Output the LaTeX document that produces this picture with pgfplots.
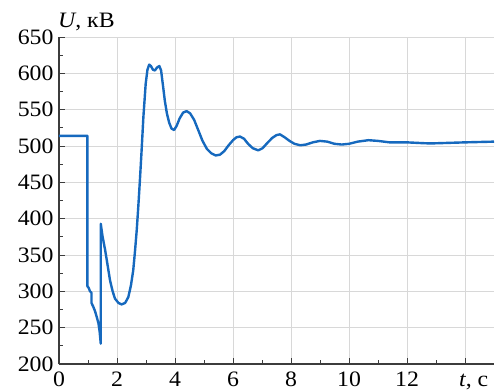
\documentclass[border=0pt]{standalone}
\usepackage{fontspec}
\setmainfont{Liberation Serif}[FakeStretch=1.08]
\usepackage{pgfplots}
\pgfplotsset{compat=1.18}
\definecolor{lineblue}{RGB}{22,105,190}
\definecolor{gridgray}{RGB}{216,216,216}
\definecolor{axgray}{RGB}{60,60,60}
\begin{document}
\begin{tikzpicture}
\begin{axis}[
  scale only axis,
  width=435pt, height=327pt,
  xmin=0, xmax=15, ymin=200, ymax=650,
  axis lines=left,
  axis line style={-, axgray, line width=1.1pt},
  xtick={0,2,...,14},
  xticklabels={0,2,4,6,8,10,12,{}},
  ytick={200,250,...,650},
  minor x tick num=1,
  minor y tick num=1,
  tick align=inside,
  major tick length=6pt,
  minor tick length=4pt,
  tick style={axgray, line width=0.9pt},
  grid=major,
  major grid style={gridgray, line width=0.9pt},
  /pgf/number format/assume math mode=true,
  ticklabel style={font=\rmfamily\fontsize{22}{26}\selectfont},
  yticklabel style={xshift=-2pt},
  xticklabel style={yshift=-4pt},
  clip=false,
]
\addplot[lineblue, line width=2.4pt, line join=round] coordinates {
(0,514) (0.98,514) (0.98,307) (1.02,305) (1.07,300) (1.12,298) (1.12,284)
(1.18,279) (1.24,273) (1.30,265) (1.36,256) (1.40,245) (1.44,228) (1.44,393)
(1.50,376) (1.59,357) (1.68,335) (1.76,315) (1.85,300) (1.93,290) (2.05,284)
(2.16,282) (2.28,284) (2.39,292) (2.48,308) (2.56,329) (2.62,355) (2.68,384)
(2.74,420) (2.79,453) (2.85,495) (2.91,540) (2.99,586) (3.05,605) (3.11,612)
(3.17,610) (3.24,605) (3.31,604) (3.38,608) (3.46,610) (3.52,604) (3.58,585)
(3.65,562) (3.72,545) (3.80,532) (3.88,524) (3.97,522) (4.06,528) (4.16,538)
(4.28,546) (4.40,548) (4.52,545) (4.66,536) (4.80,522) (4.95,507) (5.10,496)
(5.25,490) (5.40,487) (5.55,488) (5.70,493) (5.85,501) (6.00,508) (6.12,512)
(6.24,513) (6.38,510) (6.52,503) (6.68,497) (6.87,494) (7.02,497) (7.18,504)
(7.35,511) (7.50,515) (7.62,516) (7.78,512) (7.95,507) (8.12,503) (8.32,501)
(8.52,502) (8.75,505) (9.00,507) (9.25,506) (9.50,503) (9.75,502) (10.00,503)
(10.30,506) (10.67,508) (11.00,507) (11.40,505) (12.00,505) (12.50,504)
(12.80,503.5) (13.20,504) (14.00,505) (15.00,506)
};
\coordinate (sw) at (rel axis cs:0,0);
\coordinate (ne) at (rel axis cs:1,1);
\node[anchor=base west, font=\rmfamily\fontsize{22}{26}\selectfont, inner sep=0pt] at ([xshift=-1pt,yshift=9pt]rel axis cs:0,1) {\textit{U}, кВ};
\node[anchor=base, font=\rmfamily\fontsize{22}{26}\selectfont, inner sep=0pt] at ([yshift=-23pt]axis cs:14.3,200) {\textit{t}, с};
\end{axis}
\pgfresetboundingbox
\path[use as bounding box] ([xshift=-59pt,yshift=-28pt]sw) rectangle ([xshift=4pt,yshift=37pt]ne);
\end{tikzpicture}
\end{document}
